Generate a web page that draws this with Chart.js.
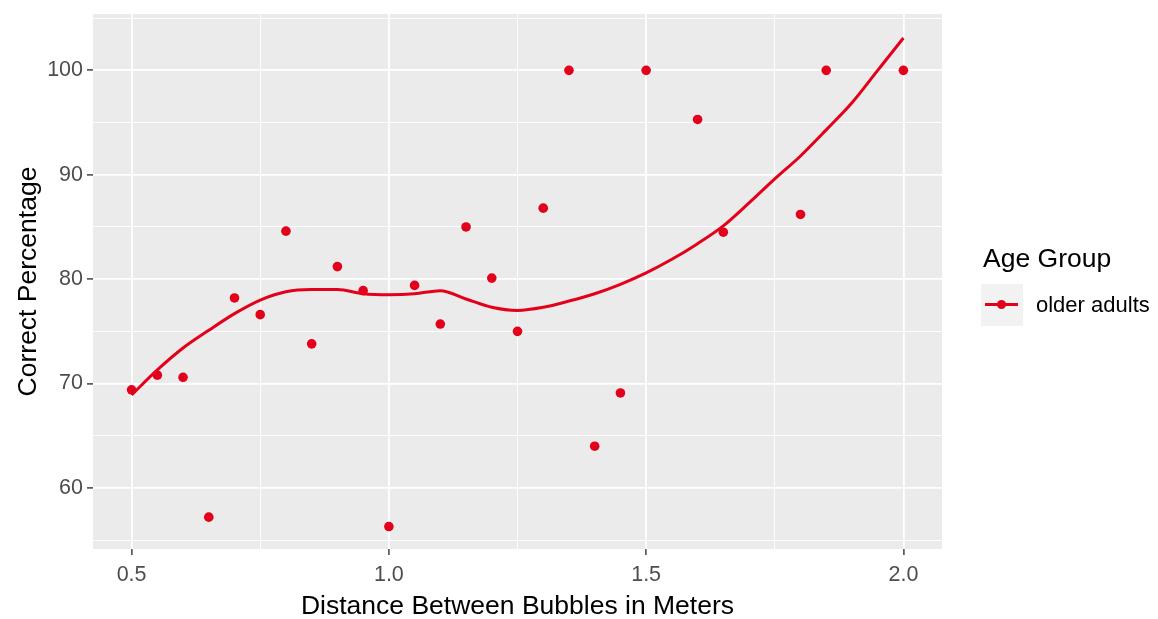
<!DOCTYPE html>
<html>
<head>
<meta charset="utf-8">
<script src="https://cdn.jsdelivr.net/npm/chart.js@4.4.1/dist/chart.umd.min.js"></script>
<style>
  body { margin: 0; background: #fff; font-family: Arial, "Liberation Sans", sans-serif; }
  #wrap { position: relative; width: 1158px; height: 619px; }
  #legend { position: absolute; left: 981px; top: 242px; color: #000; }
  #legend .title { font-size: 26.5px; margin-left: 2px; line-height: 32px; }
  #legend .item { display: flex; align-items: center; margin-top: 10px; }
  #legend .key { position: relative; width: 42px; height: 42px; background: #F2F2F2; }
  #legend .key .ln { position: absolute; left: 4px; right: 5px; top: 19px; height: 3px; background: #E3001B; }
  #legend .key .dot { position: absolute; left: 16px; top: 16px; width: 9px; height: 9px; border-radius: 50%; background: #E3001B; }
  #legend .label { font-size: 22px; margin-left: 13px; }
</style>
</head>
<body>
<div id="wrap">
  <canvas id="chart" width="1158" height="619"></canvas>
  <div id="legend">
    <div class="title">Age Group</div>
    <div class="item"><div class="key"><div class="ln"></div><div class="dot"></div></div><span class="label">older adults</span></div>
  </div>
</div>
<script>
// ===== data =====
const distances = [0.5, 0.55, 0.6, 0.65, 0.7, 0.75, 0.8, 0.85, 0.9, 0.95, 1.0, 1.05, 1.1, 1.15, 1.2, 1.25, 1.3, 1.35, 1.4, 1.45, 1.5, 1.6, 1.65, 1.8, 1.85, 2.0];
const correctPct = [69.4, 70.8, 70.6, 57.2, 78.2, 76.6, 84.6, 73.8, 81.2, 78.9, 56.3, 79.4, 75.7, 85.0, 80.1, 75.0, 86.8, 100, 64.0, 69.1, 100, 95.3, 84.5, 86.2, 100, 100];

// loess curve
const smoothX = [0.5, 0.55, 0.6, 0.65, 0.7, 0.75, 0.8, 0.85, 0.9, 0.95, 1.0, 1.05, 1.1, 1.15, 1.2, 1.25, 1.3, 1.35, 1.4, 1.45, 1.5, 1.55, 1.6, 1.65, 1.7, 1.75, 1.8, 1.85, 1.9, 1.95, 2.0];
const smoothY = [68.9, 71.3, 73.4, 75.1, 76.7, 78.0, 78.8, 79.0, 79.0, 78.6, 78.5, 78.6, 78.9, 78.1, 77.3, 77.0, 77.3, 77.9, 78.6, 79.5, 80.6, 81.9, 83.4, 85.1, 87.3, 89.6, 91.8, 94.3, 96.9, 100.0, 103.1];

const xTicks = [0.5, 0.75, 1.0, 1.25, 1.5, 1.75, 2.0];
const yTicks = [55, 60, 65, 70, 75, 80, 85, 90, 95, 100, 105];
const xLabelTicks = [0.5, 1.0, 1.5, 2.0];
const yLabelTicks = [60, 70, 80, 90, 100];

const RED = '#E3001B';
const FONT = 'Arial, "Liberation Sans", sans-serif';

const isMajor = (list, v) => list.some(t => Math.abs(t - v) < 1e-6);

// grey panel behind the grid
const panelBg = {
  id: 'panelBg',
  beforeDraw(chart) {
    const { ctx, chartArea: a } = chart;
    ctx.save();
    ctx.fillStyle = '#EBEBEB';
    ctx.fillRect(a.left, a.top, a.right - a.left, a.bottom - a.top);
    ctx.restore();
  }
};

const pts = distances.map((d, i) => ({ x: d, y: correctPct[i] }));
const curve = smoothX.map((d, i) => ({ x: d, y: smoothY[i] }));

new Chart(document.getElementById('chart'), {
  type: 'scatter',
  data: {
    datasets: [
      {
        label: 'older adults',
        data: curve,
        showLine: true,
        borderColor: RED,
        borderWidth: 3,
        pointRadius: 0,
        cubicInterpolationMode: 'monotone',
        order: 0,
      },
      {
        label: 'older adults',
        data: pts,
        showLine: false,
        backgroundColor: RED,
        borderWidth: 0,
        pointRadius: 4.8,
        order: 1,
      },
    ],
  },
  options: {
    responsive: false,
    animation: false,
    layout: { padding: { top: 14, right: 216, bottom: 0, left: 0 } },
    plugins: { legend: { display: false }, tooltip: { enabled: false } },
    scales: {
      x: {
        type: 'linear',
        min: 0.425,
        max: 2.075,
        afterBuildTicks: s => { s.ticks = xTicks.map(v => ({ value: v })); },
        afterFit: s => { s.height = 70; s.paddingLeft = 0; s.paddingRight = 0; },
        border: { display: false },
        grid: {
          color: '#FFFFFF',
          lineWidth: c => isMajor(xLabelTicks, c.tick.value) ? 1.8 : 0.9,
          tickLength: 6,
          tickWidth: 1.4,
          tickColor: c => isMajor(xLabelTicks, c.tick.value) ? '#333333' : 'rgba(0,0,0,0)',
        },
        ticks: {
          padding: 7,
          maxRotation: 0,
          autoSkip: false,
          color: '#4D4D4D',
          font: { family: FONT, size: 21.5 },
          callback: v => isMajor(xLabelTicks, v) ? v.toFixed(1) : '',
        },
        title: {
          display: true,
          text: 'Distance Between Bubbles in Meters',
          color: '#000',
          font: { family: FONT, size: 26.5, lineHeight: 0.9 },
          padding: { top: 0, bottom: 0 },
        },
      },
      y: {
        type: 'linear',
        min: 54.15,
        max: 105.4,
        afterBuildTicks: s => { s.ticks = yTicks.map(v => ({ value: v })); },
        afterFit: s => { s.width = 93; s.paddingTop = 0; s.paddingBottom = 0; },
        border: { display: false },
        grid: {
          color: '#FFFFFF',
          lineWidth: c => isMajor(yLabelTicks, c.tick.value) ? 1.8 : 0.9,
          tickLength: 6,
          tickWidth: 1.4,
          tickColor: c => isMajor(yLabelTicks, c.tick.value) ? '#333333' : 'rgba(0,0,0,0)',
        },
        ticks: {
          padding: 4,
          autoSkip: false,
          color: '#4D4D4D',
          font: { family: FONT, size: 21.5 },
          callback: v => isMajor(yLabelTicks, v) ? String(v) : '',
        },
        title: {
          display: true,
          text: 'Correct Percentage',
          color: '#000',
          font: { family: FONT, size: 26.5 },
          padding: { top: 13, bottom: 0 },
        },
      },
    },
  },
  plugins: [panelBg],
});
</script>
</body>
</html>
